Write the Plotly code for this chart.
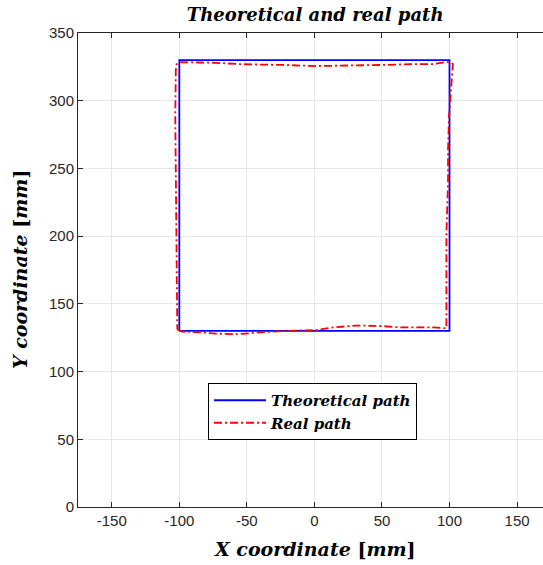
import plotly.graph_objects as go

# Theoretical square path (corners, closed)
theo_x = [-100, 100, 100, -100, -100]
theo_y = [130, 130, 330, 330, 130]

# Measured path of the robot (closed loop, counter-clockwise from bottom-left)
real_x = [-101.5, -98, -85, -73, -58, -41, -24, 1, 14, 31, 50, 63, 88, 97.7,
          97.7, 97.2, 97.7, 98.9, 98.9, 99.6, 101.4, 102.6,
          102.5, 101.4, 97.7, 87.8, 70.5, 50.6, 26, 1.2, -23.7, -55.6, -73, -99, -102,
          -102.6, -103, -102.6, -102, -101.4, -101.5]
real_y = [131, 129.5, 129, 128, 127.6, 129, 130, 130.6, 132.6, 134, 133.6, 132.6, 132.6, 132,
          135.8, 165, 202, 239, 263.6, 288, 312.8, 326.4,
          327, 328, 328.6, 327, 327, 326.4, 325.8, 325.6, 326.4, 327, 328, 328.4, 327,
          322.7, 288, 239, 189.7, 135.8, 131]

x_ticks = [-150, -100, -50, 0, 50, 100, 150]
x_tick_text = ["-150", "-100", "-50", "0", "50", "100", "150"]
y_ticks = [0, 50, 100, 150, 200, 250, 300, 350]

serif = "DejaVu Serif, serif"
sans = "Liberation Sans, Arial, sans-serif"
axis_col = "#262626"

fig = go.Figure()
fig.add_trace(go.Scatter(
    x=theo_x, y=theo_y, mode="lines", name="<b><i>Theoretical path</i></b>",
    line=dict(color="#0000ff", width=1.8),
))
fig.add_trace(go.Scatter(
    x=real_x, y=real_y, mode="lines", name="<b><i>Real path</i></b>",
    line=dict(color="#ff0000", width=1.8, dash="8px,3px,2px,3px"),
))

fig.update_layout(
    width=543, height=565,
    margin=dict(l=78, r=0, t=33, b=58),
    paper_bgcolor="white", plot_bgcolor="white",
    title=dict(
        text="<b><i>Theoretical and real path</i></b>",
        font=dict(family=serif, size=18, color="black"),
        x=0.51, xref="paper", xanchor="center",
        y=1 - 15 / 565, yref="container", yanchor="middle",
    ),
    legend=dict(
        x=0.2796, y=0.2616, xanchor="left", yanchor="top",
        bgcolor="white", bordercolor="black", borderwidth=1,
        font=dict(family=serif, size=15, color="black"),
        tracegroupgap=0, itemwidth=52,
    ),
    xaxis=dict(
        range=[-175, 169.2], tickvals=x_ticks, ticktext=x_tick_text,
        showgrid=True, gridcolor="#e6e6e6", gridwidth=1,
        zeroline=False, showline=True, linecolor=axis_col, linewidth=1,
        mirror="ticks", ticks="inside", ticklen=5, tickcolor=axis_col,
        tickfont=dict(family=sans, size=15, color=axis_col),
    ),
    yaxis=dict(
        range=[0, 350], tickvals=y_ticks,
        showgrid=True, gridcolor="#e6e6e6", gridwidth=1,
        zeroline=False, showline=True, linecolor=axis_col, linewidth=1,
        ticks="inside", ticklen=5, tickcolor=axis_col,
        tickfont=dict(family=sans, size=15, color=axis_col),
    ),
    showlegend=True,
)

fig.add_annotation(
    text="<b><i>X coordinate </i>[<i>mm</i>]</b>", xref="paper", yref="paper",
    x=0.51, y=-(549 - 507) / 474, xanchor="center", yanchor="middle",
    showarrow=False, font=dict(family=serif, size=19, color="black"),
)
fig.add_annotation(
    text="<b><i>Y coordinate </i>[<i>mm</i>]</b>", xref="paper", yref="paper",
    x=-(78 - 20) / 465, y=(507 - 270) / 474, xanchor="center", yanchor="middle",
    textangle=-90, showarrow=False, font=dict(family=serif, size=19, color="black"),
)

fig.write_html("out.html")
